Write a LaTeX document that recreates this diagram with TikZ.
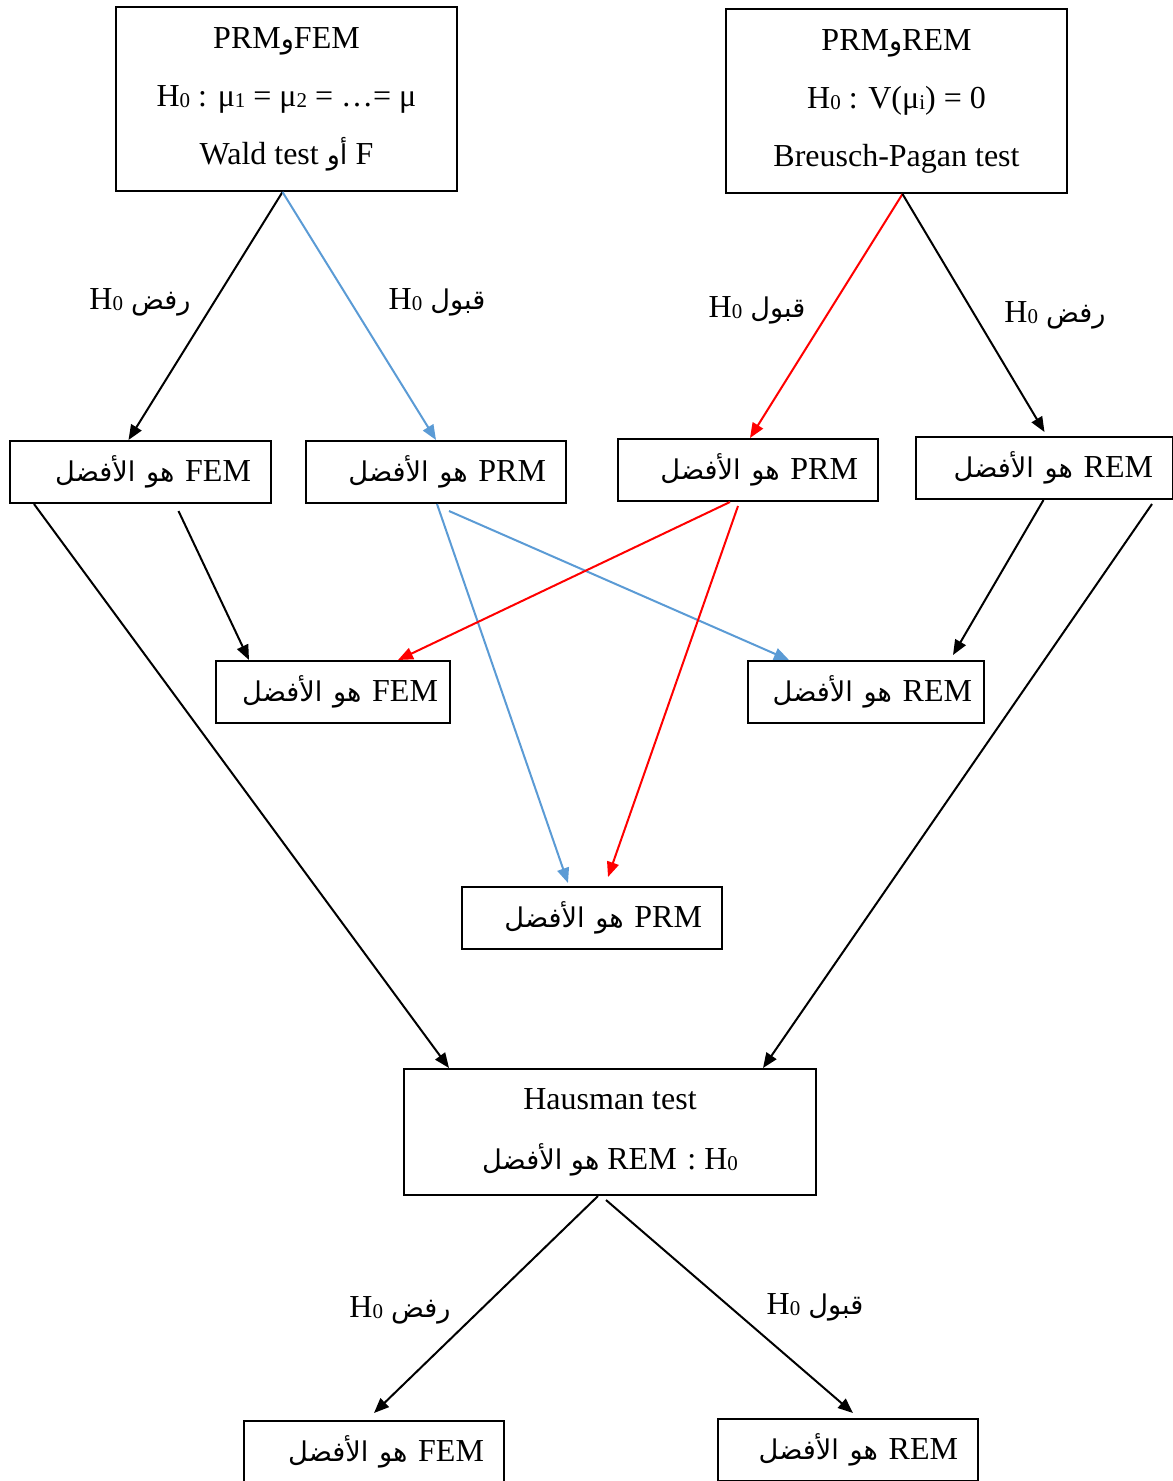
\documentclass[tikz,border=0pt]{standalone}
\usepackage{fontspec}
\setmainfont{Liberation Serif}
\newfontfamily\arabicfont[Script=Arabic,Scale=0.85]{DejaVu Sans}
\TeXXeTstate=1
\usetikzlibrary{arrows.meta, calc}

\definecolor{lineblue}{RGB}{91,155,213}
\definecolor{linered}{RGB}{255,0,0}

\newcommand{\arb}[1]{{\arabicfont #1}}
\newcommand{\idx}[1]{\raisebox{-0.1ex}{\fontsize{21}{21}\selectfont #1}}
\newcommand{\best}{\arb{هو الأفضل}}
\newcommand{\rafd}{\beginR\arb{رفض} \beginL H\idx{0}\endL\endR}
\newcommand{\qabul}{\beginR\arb{قبول} \beginL H\idx{0}\endL\endR}

\tikzset{
  testbox/.style={draw, line width=2pt, align=center, inner sep=0pt},
  result/.style={draw, line width=2pt, inner xsep=20pt, inner ysep=0pt,
    text width=#1, align=right, minimum height=62pt},
  arr/.style={-{Triangle[length=15pt,width=12pt]}, line width=2pt},
}

\begin{document}
\begin{tikzpicture}[x=1pt, y=-1pt, font=\fontsize{32}{38}\selectfont]
  \useasboundingbox (0,0) rectangle (1173,1481);

  % tests
  \node[testbox, minimum width=341pt, minimum height=184pt,
        font=\fontsize{32}{58}\selectfont] (fem) at (286.5,99)
    {\beginR\beginL FEM\endL\arb{و}\beginL PRM\endL\endR\\
     H\idx{0} : μ\idx{1} = μ\idx{2} = …= μ\\
     \beginR F \arb{أو} \beginL Wald test\endL\endR};
  \node[testbox, minimum width=341pt, minimum height=184pt,
        font=\fontsize{32}{58}\selectfont] (rem) at (896.5,101)
    {\beginR\beginL REM\endL\arb{و}\beginL PRM\endL\endR\\
     H\idx{0} : V(μ\idx{i}) = 0\\
     Breusch-Pagan test};

  % first results
  \node[result=221pt] (femA) at (140.5,472) {\beginR\beginL FEM\endL{} \best\endR};
  \node[result=220pt] (prmA) at (436,472) {\beginR\beginL PRM\endL{} \best\endR};
  \node[result=220pt] (prmB) at (748,470) {\beginR\beginL PRM\endL{} \best\endR};
  \node[result=217pt] (remA) at (1044.5,468) {\beginR\beginL REM\endL{} \best\endR};

  % combined results
  \node[result=210pt, inner xsep=12pt] (femB) at (333,692) {\beginR\beginL FEM\endL{} \best\endR};
  \node[result=212pt, inner xsep=12pt] (remB) at (866,692) {\beginR\beginL REM\endL{} \best\endR};
  \node[result=220pt] (prmC) at (592,918) {\beginR\beginL PRM\endL{} \best\endR};

  % Hausman
  \node[testbox, minimum width=412pt, minimum height=126pt,
        font=\fontsize{32}{60}\selectfont] (haus) at (610,1132)
    {Hausman test\\
     \beginR\beginL H\idx{0}\endL{} : \beginL REM\endL{} \best\endR};
  \node[result=220pt] (femC) at (374,1452) {\beginR\beginL FEM\endL{} \best\endR};
  \node[result=220pt] (remC) at (848,1450) {\beginR\beginL REM\endL{} \best\endR};

  % labels
  \node (l1) at (140,302) {\rafd};
  \node (l2) at (437,302) {\qabul};
  \node (l3) at (757,310) {\qabul};
  \node (l4) at (1055,315) {\rafd};
  \node (l5) at (400,1310) {\rafd};
  \node (l6) at (815,1307) {\qabul};

  % arrows from the tests
  \draw[arr] ([xshift=-4pt]fem.south) -- ([xshift=-12pt]femA.north);
  \draw[arr, lineblue] ([xshift=-4pt]fem.south) -- (prmA.north);
  \draw[arr, linered] ([xshift=6pt]rem.south) -- ([xshift=2pt]prmB.north);
  \draw[arr] ([xshift=6pt]rem.south) -- ([yshift=4pt]remA.north);

  % arrows between results
  \draw[arr] ([xshift=38pt,yshift=-7pt]femA.south) -- ([xshift=34pt]femB.north west);
  \draw[arr] ([xshift=25pt]femA.south west) -- ([xshift=46pt]haus.north west);
  \draw[arr, lineblue] ([xshift=1pt]prmA.south) -- ([xshift=-24pt,yshift=3pt]prmC.north);
  \draw[arr, lineblue] ([xshift=13pt,yshift=-7pt]prmA.south) -- ([xshift=42pt]remB.north west);
  \draw[arr, linered] ([xshift=-18pt]prmB.south) -- ([xshift=65pt]femB.north);
  \draw[arr, linered] ([xshift=-10pt,yshift=-4pt]prmB.south) -- ([xshift=16pt,yshift=9pt]prmC.north);
  \draw[arr] ([xshift=-1pt]remA.south) -- ([xshift=-32pt,yshift=5pt]remB.north east);
  \draw[arr] ([xshift=-22pt,yshift=-4pt]remA.south east) -- ([xshift=-54pt]haus.north east);

  % arrows from Hausman
  \draw[arr] ([xshift=-12pt]haus.south) -- ([yshift=7pt]femC.north);
  \draw[arr] ([xshift=-4pt,yshift=-4pt]haus.south) -- ([xshift=5pt,yshift=5pt]remC.north);
\end{tikzpicture}
\end{document}
